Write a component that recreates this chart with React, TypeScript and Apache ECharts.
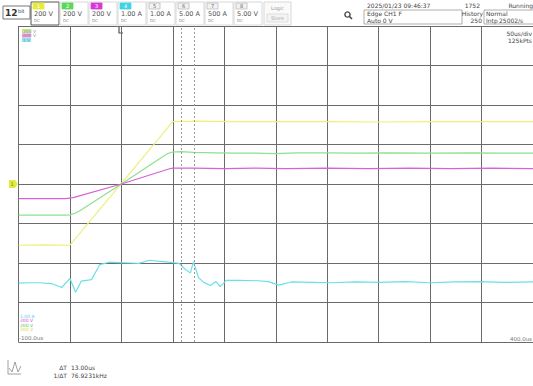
import React, { useEffect, useRef } from "react";
import * as echarts from "echarts";

// time in microseconds, value in divisions
const ch1Yellow: [number, number][] = [
  [-100, -1.55], [-75, -1.54], [-50, -1.55], [50, 1.58], [75, 1.59], [110, 1.58],
  [150, 1.58], [200, 1.58], [250, 1.57], [300, 1.58], [350, 1.58], [400, 1.58],
];
const ch2Green: [number, number][] = [
  [-100, -0.79], [-75, -0.79], [-55, -0.79], [-50, -0.78], [-45, -0.74], [-40, -0.67],
  [0, 0], [40, 0.69], [45, 0.77], [50, 0.81], [58, 0.82], [70, 0.8], [90, 0.79],
  [110, 0.78], [130, 0.78], [150, 0.77], [170, 0.79], [200, 0.79], [230, 0.78],
  [260, 0.79], [300, 0.78], [340, 0.79], [370, 0.78], [400, 0.78],
];
const ch3Magenta: [number, number][] = [
  [-100, -0.37], [-55, -0.37], [-50, -0.36], [-46, -0.34], [0, 0], [46, 0.38],
  [50, 0.4], [70, 0.4], [100, 0.39], [130, 0.4], [160, 0.39], [200, 0.4],
  [240, 0.39], [280, 0.4], [320, 0.39], [360, 0.4], [400, 0.39],
];
const ch4Cyan: [number, number][] = [
  [-100, -2.51], [-90, -2.5], [-79, -2.5], [-68, -2.52], [-58, -2.62], [-50, -2.39],
  [-44.5, -2.74], [-39, -2.46], [-29, -2.42], [-21, -2.04], [-12, -1.98], [-2, -1.99],
  [8, -2.0], [17, -2.01], [27, -1.93], [37, -1.96], [46, -1.98], [56, -2.01],
  [62.5, -2.17], [67, -2.25], [70, -1.97], [75, -2.37], [80, -2.49], [86.5, -2.57],
  [92, -2.47], [96, -2.6], [102, -2.44], [114, -2.44], [133, -2.45], [143, -2.47],
  [153, -2.56], [165, -2.48], [185, -2.49], [204, -2.5], [228, -2.48], [252, -2.49],
  [276, -2.47], [300, -2.5], [324, -2.48], [348, -2.47], [372, -2.49], [400, -2.48],
];

const cursorTimes = [58, 71];
const channelNames = ["1", "2", "3", "4", "5", "6", "7", "8"];
const channelScales = ["200 V", "200 V", "200 V", "1.00 A", "1.00 A", "5.00 A", "500 A", "5.00 V"];
const channelTabColors = ["#e4ec3a", "#5ad85a", "#d838d8", "#40d4e0", "#f2f2f2", "#f2f2f2", "#f2f2f2", "#f2f2f2"];
const traceColors = ["#eef07a", "#8ee08e", "#d860d8", "#6adfe8"];

const FONT = "DejaVu Sans";

function txt(text: string, x: number, y: number, size: number, fill = "#444", align = "left", weight = "normal") {
  return {
    type: "text",
    x,
    y,
    silent: true,
    style: { text, fill, fontSize: size, fontFamily: FONT, align, verticalAlign: "middle", fontWeight: weight },
  };
}

export default function App() {
  const ref = useRef<HTMLDivElement>(null);
  useEffect(() => {
    if (!ref.current) return;
    const chart = echarts.init(ref.current, undefined, { renderer: "svg" });
    const graphics: any[] = [];
    // 12bit box
    graphics.push({ type: "rect", shape: { x: 3, y: 6, width: 27, height: 13 }, style: { fill: "#fff", stroke: "#777", lineWidth: 1 } });
    graphics.push(txt("12", 5, 13, 9, "#333", "left", "bold"));
    graphics.push(txt("bit", 18, 11, 5, "#333"));
    // channel boxes
    channelNames.forEach((n, i) => {
      const bx = 31 + i * 29;
      graphics.push({
        type: "rect",
        shape: { x: bx, y: 2, width: 28, height: 23 },
        style: { fill: "#fff", stroke: i === 0 ? "#555" : "#d8d8d8", lineWidth: 1 },
      });
      graphics.push({
        type: "rect",
        shape: { x: bx + 2, y: 3, width: 11, height: 6 },
        style: { fill: channelTabColors[i], stroke: i >= 4 ? "#bbb" : channelTabColors[i], lineWidth: 0.8 },
      });
      graphics.push(txt(n, bx + 7.5, 6, 5, i >= 4 ? "#666" : "#fff", "center"));
      graphics.push(txt(channelScales[i], bx + 3, 14, 6.5, "#555"));
      graphics.push(txt("DC", bx + 3, 20.5, 4, "#888"));
    });
    // logic box
    graphics.push({ type: "rect", shape: { x: 264, y: 2, width: 27, height: 23 }, style: { fill: "#fafafa", stroke: "#d8d8d8", lineWidth: 1 } });
    graphics.push(txt("Logic", 277.5, 7.5, 5, "#999", "center"));
    graphics.push({ type: "rect", shape: { x: 267, y: 14, width: 21, height: 8 }, style: { fill: "#f4f4f4", stroke: "#ccc", lineWidth: 0.6 } });
    graphics.push(txt("Store", 277.5, 18, 5, "#aaa", "center"));
    // magnifier
    graphics.push({ type: "circle", shape: { cx: 347.5, cy: 14.5, r: 2.6 }, style: { fill: "none", stroke: "#444", lineWidth: 1.4 } });
    graphics.push({ type: "line", shape: { x1: 349.5, y1: 16.5, x2: 352, y2: 19 }, style: { stroke: "#444", lineWidth: 1.6 } });
    // trigger info
    graphics.push(txt("2025/01/23 09:46:37", 367, 5, 6, "#444"));
    graphics.push({ type: "rect", shape: { x: 364, y: 10, width: 98, height: 14 }, style: { fill: "#fff", stroke: "#999", lineWidth: 0.8 } });
    graphics.push(txt("Edge CH1 F", 367, 13.5, 6, "#444"));
    graphics.push(txt("Auto 0 V", 367, 20, 6, "#444"));
    graphics.push(txt("1752", 480, 5, 6, "#444", "right"));
    graphics.push(txt("Running", 533, 5, 6, "#444", "right"));
    graphics.push({ type: "rect", shape: { x: 484, y: 10, width: 52, height: 14 }, style: { fill: "#fff", stroke: "#999", lineWidth: 0.8 } });
    graphics.push(txt("History", 483, 13.5, 6, "#444", "right"));
    graphics.push(txt("Normal", 486, 13.5, 6, "#444"));
    graphics.push(txt("250", 482, 20, 6, "#444", "right"));
    graphics.push(txt("Intp", 486, 20, 6, "#444"));
    graphics.push(txt("25002/s", 499, 20, 6, "#444"));
    // timebase
    graphics.push(txt("50us/div", 532, 33, 6, "#444", "right"));
    graphics.push(txt("125kPts", 532, 40, 6, "#444", "right"));
    // in-grid scale legends (top-left)
    const topLeg = [
      { t: "200 V", c: "#c8ec80", y: 31 },
      { t: "200 V", c: "#e890e8", y: 35.5 },
      { t: "1 V", c: "#90e4ee", y: 40 },
    ];
    topLeg.forEach((l) => {
      graphics.push({ type: "rect", shape: { x: 22, y: l.y - 2, width: 9, height: 4 }, style: { fill: l.c } });
      graphics.push(txt(l.t, 23, l.y, 4.5, "#999"));
    });
    // bottom-left legends
    const botLeg = [
      { t: "1.00 A", c: "#5cc8e0", y: 316 },
      { t: "200 V", c: "#d848d8", y: 320.5 },
      { t: "200 V", c: "#50c850", y: 325 },
      { t: "200 V", c: "#d8d840", y: 329.5 },
    ];
    botLeg.forEach((l) => graphics.push(txt(l.t, 20, l.y, 4.5, l.c)));
    graphics.push(txt("-100.0us", 19, 337.5, 5.5, "#777"));
    graphics.push(txt("400.0us", 532, 338.5, 5.5, "#777", "right"));
    // trigger position marker
    graphics.push({ type: "polyline", shape: { points: [[119, 27], [119, 33], [123, 33]] }, style: { stroke: "#555", lineWidth: 1.2, fill: "none" } });
    // channel 1 ground marker
    graphics.push({ type: "polygon", shape: { points: [[9, 180], [15, 180], [18, 184], [15, 188], [9, 188]] }, style: { fill: "#e4ec3a" } });
    graphics.push(txt("1", 12, 184, 5, "#777", "center"));
    // bottom measurement block
    graphics.push({ type: "polyline", shape: { points: [[8, 360], [8, 374], [21, 374]] }, style: { stroke: "#888", lineWidth: 0.8, fill: "none" } });
    graphics.push({ type: "polyline", shape: { points: [[9, 368], [12, 372], [15, 362], [18, 372], [21, 366]] }, style: { stroke: "#888", lineWidth: 0.8, fill: "none" } });
    graphics.push(txt("ΔT", 67, 367, 6, "#444", "right"));
    graphics.push(txt("13.00us", 71, 367, 6, "#444"));
    graphics.push(txt("1/ΔT", 67, 375, 6, "#444", "right"));
    graphics.push(txt("76.9231kHz", 71, 375, 6, "#444"));

    const mk = (data: [number, number][], color: string, extra: any = {}) => ({
      type: "line",
      data,
      showSymbol: false,
      symbol: "none",
      lineStyle: { color, width: 1.2 },
      silent: true,
      z: 3,
      ...extra,
    });

    chart.setOption({
      animation: false,
      backgroundColor: "#ffffff",
      grid: { left: 18.5, top: 26, width: 518.5, height: 316 },
      xAxis: {
        type: "value",
        min: -100,
        max: 400,
        interval: 50,
        axisLine: { show: false },
        axisTick: { show: false },
        axisLabel: { show: false },
        splitLine: { show: true, showMinLine: true, showMaxLine: true, lineStyle: { color: "#6a6a6a", width: 1 } },
      },
      yAxis: {
        type: "value",
        min: -4,
        max: 4,
        interval: 1,
        axisLine: { show: false },
        axisTick: { show: false },
        axisLabel: { show: false },
        splitLine: { show: true, showMinLine: true, showMaxLine: true, lineStyle: { color: "#6a6a6a", width: 1 } },
      },
      graphic: graphics,
      series: [
        mk(ch1Yellow, traceColors[0], {
          markLine: {
            silent: true,
            symbol: "none",
            label: { show: false },
            lineStyle: { color: "#999", type: [2, 2], width: 1 },
            data: cursorTimes.map((t) => ({ xAxis: t })),
          },
        }),
        mk(ch2Green, traceColors[1]),
        mk(ch3Magenta, traceColors[2]),
        mk(ch4Cyan, traceColors[3]),
      ],
    });
    return () => chart.dispose();
  }, []);
  return <div ref={ref} style={{ position: "fixed", left: 0, top: 0, width: 533, height: 386, background: "#fff" }} />;
}
